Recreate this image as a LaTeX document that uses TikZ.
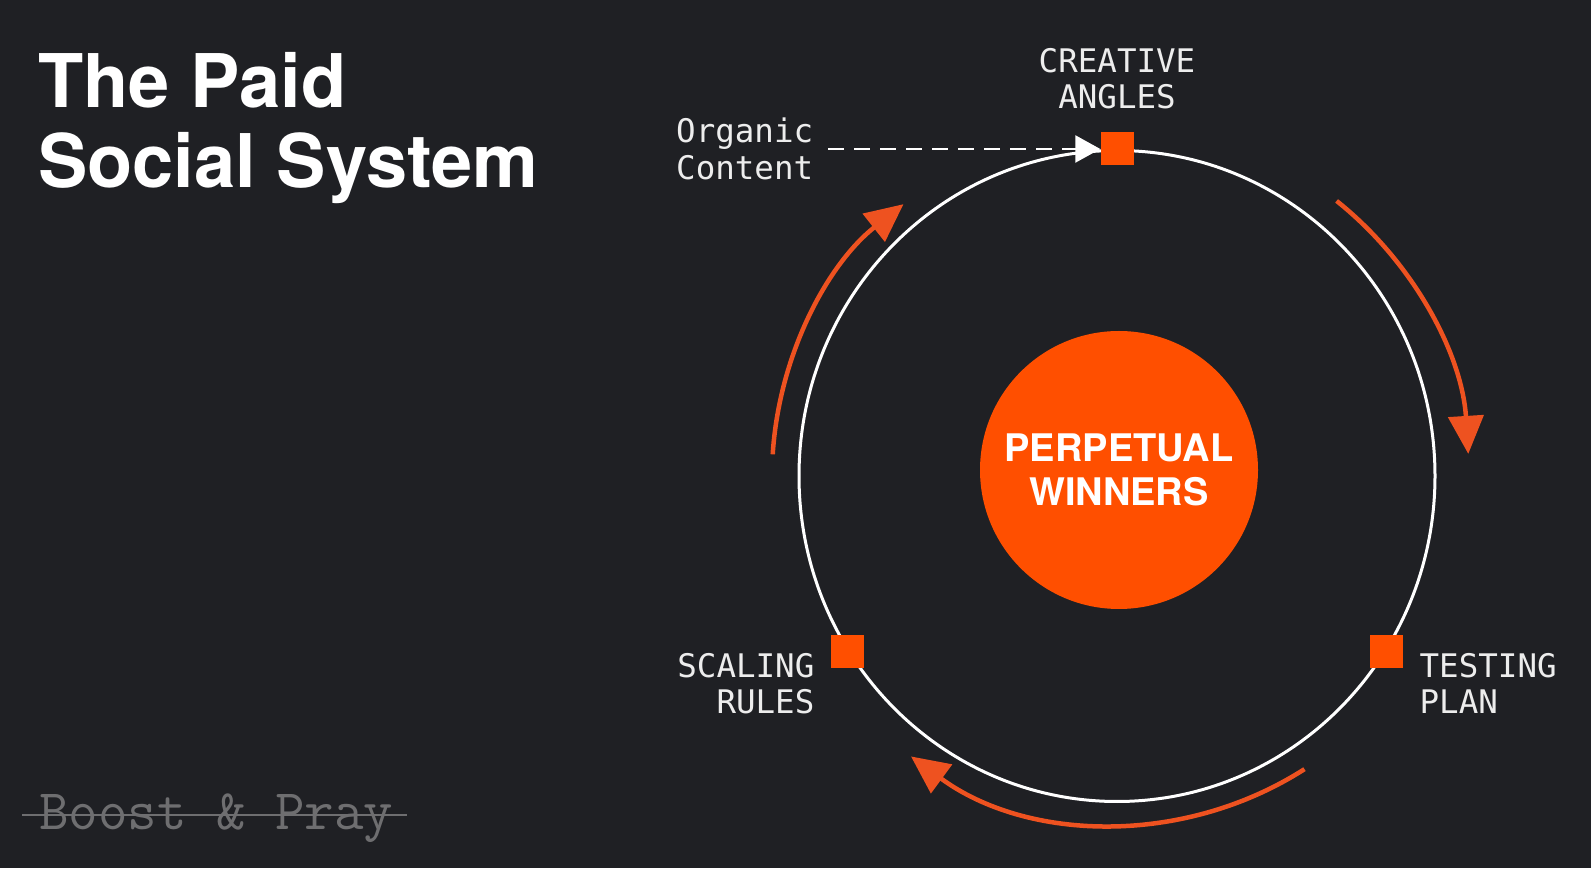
\documentclass[tikz,border=0pt]{standalone}
\usepackage{fontspec}
\usepackage{xcolor}
\usepackage{tikz}
\usetikzlibrary{arrows.meta,positioning,calc,shapes.geometric}
\newfontfamily\headfont{TeX Gyre Heros}
\newfontfamily\labelfont{DejaVu Sans Mono}
\definecolor{PaidBg}{HTML}{1F2024}
\definecolor{PaidOrange}{HTML}{FF4F00}
\definecolor{PaidArc}{HTML}{EE5220}
\definecolor{PaidGrey}{HTML}{6E6E70}

\begin{document}
\begin{tikzpicture}[
  x=1pt, y=1pt,
  ring/.style={draw=white, line width=3pt, ellipse, minimum width=636pt, minimum height=651pt, inner sep=0pt},
  core/.style={fill=PaidOrange, circle, minimum size=278pt, inner sep=0pt, text=white, align=center, font=\headfont\bfseries\fontsize{38}{44}\selectfont},
  stage/.style={fill=PaidOrange, minimum size=33pt, inner sep=0pt},
  tag/.style={text=white!93!black, inner sep=0pt, font=\labelfont\fontsize{32.5}{36.5}\selectfont},
  flow/.style={-{Triangle[width=35pt,length=38pt]}, draw=PaidArc, line width=4.5pt},
  feed/.style={-{Triangle[width=27pt,length=25pt]}, draw=white, line width=2.5pt, dash pattern=on 16pt off 10pt},
  strike/.style={draw=PaidGrey, line width=2.5pt}
]
\fill[PaidBg] (0,0) rectangle (1591,868);
\useasboundingbox (0,0) rectangle (1591,868);

% title
\node[anchor=north west, inner sep=0pt, text=white, align=left, font=\headfont\bfseries\fontsize{74}{80}\selectfont] (title) at (38,816) {The Paid\\Social System};

% the loop
\node[ring] (ring) at (1117,392) {};
\node[core] (core) at (1119,398) {PERPETUAL\\WINNERS};

\node[stage] (angles) at (ring.90) {};
\node[stage] (testing) at (ring.-33.5) {};
\node[stage] (scaling) at (ring.213.5) {};

\node[tag, align=center, above=23pt of angles] (anglestext) {CREATIVE\\ANGLES};
\node[tag, align=left, anchor=north west] (testingtext) at ([xshift=16pt,yshift=-2pt]testing.east) {TESTING\\PLAN};
\node[tag, align=right, anchor=north east] (scalingtext) at ([xshift=-16pt,yshift=-2pt]scaling.west) {SCALING\\RULES};
\node[tag, align=left, anchor=north west] (organic) at (676,750) {Organic\\Content};

\coordinate (feedstart) at ([xshift=15pt]organic.east);
\draw[feed] (feedstart |- angles.west) -- (angles.west);

% clockwise arrows
\draw[flow] ([shift={(51.4:352)}]ring.center) arc[start angle=51.4, end angle=3.6, radius=352];
\draw[flow] ([shift={(-57.4:348)}]ring.center) arc[start angle=-57.4, end angle=-126.3, radius=348];
\draw[flow] ([shift={(176.4:345)}]ring.center) arc[start angle=176.4, end angle=128.4, radius=347];

% crossed out
\node[anchor=base west, inner sep=0pt, text=PaidGrey, font=\ttfamily\fontsize{57.3}{60}\selectfont] (boost) at (39,38) {Boost \& Pray};
\draw[strike] ([shift={(-17pt,15pt)}]boost.base west) -- ([shift={(13pt,15pt)}]boost.base east);
\end{tikzpicture}
\end{document}
